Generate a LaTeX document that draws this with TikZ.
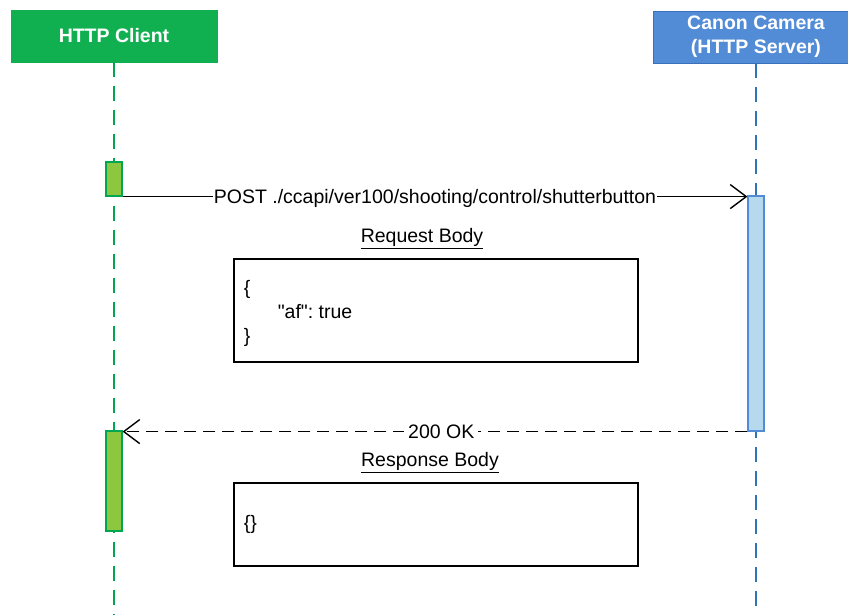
\documentclass[tikz,border=0pt]{standalone}
\usepackage{fontspec}
\setmainfont{Liberation Sans}[Ligatures=TeXOff]
\usepackage{tikz}
\usetikzlibrary{arrows.meta}
\definecolor{hdrgreen}{RGB}{16,176,80}
\definecolor{hdrblue}{RGB}{82,139,214}
\definecolor{hdrblueline}{RGB}{58,112,188}
\definecolor{actgreen}{RGB}{141,198,63}
\definecolor{actblue}{RGB}{183,217,238}
\definecolor{lifegreen}{RGB}{0,166,81}
\definecolor{lifeblue}{RGB}{46,117,182}
\newcommand{\diagfont}{\fontsize{9.75}{12}\selectfont\frenchspacing}
\tikzstyle{header}=[draw,minimum width=103pt,minimum height=26pt,inner sep=0pt,text=white,align=center,font=\diagfont\bfseries]
\tikzstyle{lifeline}=[line width=0.6pt,dash pattern=on 7.5pt off 4.5pt]
\tikzstyle{act}=[draw,line width=0.6pt,minimum width=8pt,inner sep=0pt]
\tikzstyle{msg}=[line width=0.7pt,-{Straight Barb[length=8pt,width=12pt]}]
\tikzstyle{lbl}=[fill=white,inner xsep=0.5pt,inner ysep=1pt,font=\diagfont]
\tikzstyle{bodybox}=[draw,line width=0.6pt,minimum width=202pt]
\tikzstyle{bodytext}=[anchor=west,inner xsep=5pt,align=left,font=\diagfont]

\begin{document}
\begin{tikzpicture}[x=0.5pt,y=-0.5pt]
        \clip (0,0) rectangle (848,615);
        % headers
        \node[header,fill=hdrgreen,draw=hdrgreen] (client) at (114,36) {HTTP Client};
        \node[header,fill=hdrblue,draw=hdrblueline] (camera) at (756,37) {Canon Camera\\(HTTP Server)};
        \coordinate (clientend) at (114,615);
        \coordinate (cameraend) at (756,615);
        \draw[lifeline,lifegreen] (client.south) -- (clientend);
        \draw[lifeline,lifeblue] (camera.south) -- (cameraend);
        % activations
        \node[act,fill=actgreen,draw=lifegreen,minimum height=17pt] (req) at (114,179) {};
        \node[act,fill=actblue,draw=hdrblue,minimum height=117.5pt] (srv) at (756,313.5) {};
        \node[act,fill=actgreen,draw=lifegreen,minimum height=50pt] (resp) at (114,481) {};
        % messages
        \draw[msg] (req.south east) -- (req.south east -| srv.west) node[lbl,midway,yshift=-1pt] {POST ./ccapi/ver100/shooting/control/shutterbutton};
        \draw[msg,dash pattern=on 6pt off 3.5pt] (srv.south west) -- (srv.south west -| resp.east) node[lbl,pos=0.49,inner xsep=2pt] {200 OK};
        % bodies
        \node[font=\diagfont] (reqtitle) at (422,239) {\underline{Request Body}};
        \node[bodybox,minimum height=51.5pt] (reqbody) at (436,310.5) {};
        \node[bodytext] (reqtext) at ([yshift=-1.5pt]reqbody.west) {\{\\\hspace*{17pt}"af": true\\\}};
        \node[font=\diagfont] (resptitle) at (430,463) {\underline{Response Body}};
        \node[bodybox,minimum height=41.5pt] (respbody) at (436,524.5) {};
        \node[bodytext] (resptext) at (respbody.west) {\{\}};
\end{tikzpicture}
\end{document}
